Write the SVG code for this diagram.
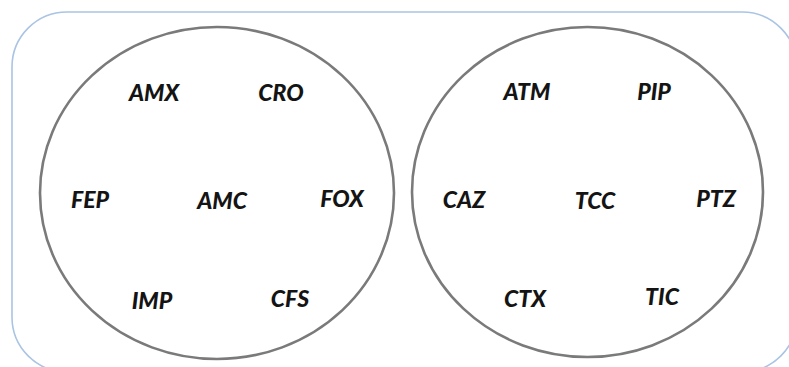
<svg xmlns="http://www.w3.org/2000/svg" width="789" height="367" viewBox="0 0 789 367">
  <style>
    .frame { fill: #ffffff; stroke: #a9c4e4; stroke-width: 1.6; }
    .set { fill: none; stroke: #7a7a7a; stroke-width: 2.6; }
    .lbl { font-family: Lato, "Liberation Sans", sans-serif; font-size: 23px; font-weight: 900; font-style: italic; fill: #141414; text-anchor: middle; }
  </style>
  <rect width="789" height="367" fill="#ffffff"/>
  <!-- rounded outer frame, running past the right and bottom edges -->
  <rect class="frame" x="12" y="12" width="785" height="360" rx="55" ry="55"/>

  <g id="group-left">
    <ellipse class="set" cx="217" cy="193" rx="177" ry="166"/>
    <g id="AMX"><text class="lbl" x="154" y="101">AMX</text></g>
    <g id="CRO"><text class="lbl" x="281" y="101">CRO</text></g>
    <g id="FEP"><text class="lbl" x="90" y="208">FEP</text></g>
    <g id="AMC"><text class="lbl" x="222" y="209">AMC</text></g>
    <g id="FOX"><text class="lbl" x="342" y="207">FOX</text></g>
    <g id="IMP"><text class="lbl" x="152" y="309">IMP</text></g>
    <g id="CFS"><text class="lbl" x="290" y="307">CFS</text></g>
  </g>

  <g id="group-right">
    <ellipse class="set" cx="587.5" cy="192" rx="175.5" ry="165"/>
    <g id="ATM"><text class="lbl" x="527" y="100">ATM</text></g>
    <g id="PIP"><text class="lbl" x="654" y="100">PIP</text></g>
    <g id="CAZ"><text class="lbl" x="464" y="208">CAZ</text></g>
    <g id="TCC"><text class="lbl" x="595" y="209">TCC</text></g>
    <g id="PTZ"><text class="lbl" x="716" y="207">PTZ</text></g>
    <g id="CTX"><text class="lbl" x="525" y="307">CTX</text></g>
    <g id="TIC"><text class="lbl" x="662" y="305">TIC</text></g>
  </g>
</svg>
